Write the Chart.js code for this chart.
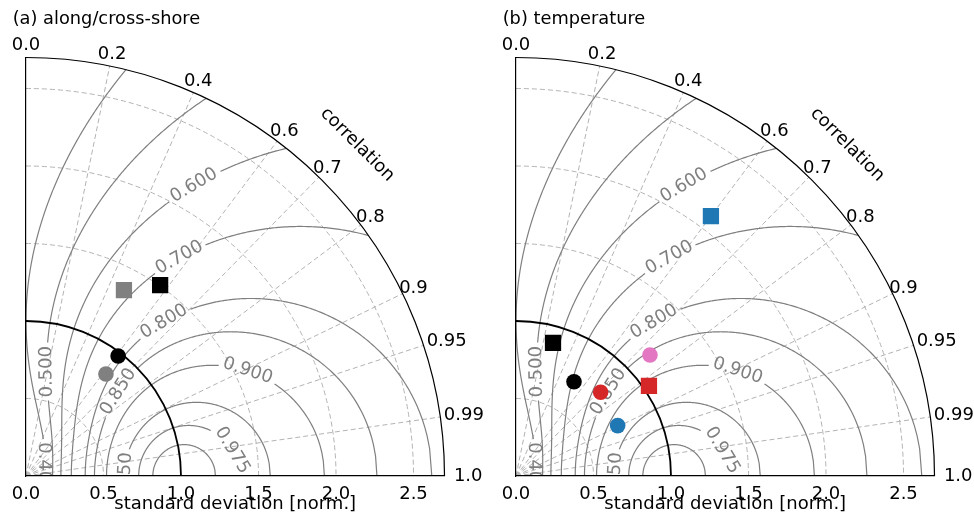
<!DOCTYPE html>
<html lang="en">
<head>
  <meta charset="UTF-8" />
  <title>Taylor diagrams</title>
  <script src="https://cdn.jsdelivr.net/npm/chart.js"></script>
  <style>
    body { margin: 0; background: #fff; font-family: 'DejaVu Sans', sans-serif; }
    .wrap { position: relative; width: 974px; height: 515px; overflow: hidden; }
    .title { position: absolute; top: 8px; font-size: 17.8px; line-height: 20px; color: #000; white-space: nowrap; }
    canvas { position: absolute; top: 0; }
  </style>
</head>
<body>
  <div class="wrap">
    <canvas id="panelA" width="487" height="515" style="left:0"></canvas>
    <canvas id="panelB" width="484" height="515" style="left:490px"></canvas>
    <div class="title" style="left:12.7px">(a) along/cross-shore</div>
    <div class="title" style="left:502.7px">(b) temperature</div>
  </div>

  <script>
    // normalised standard deviation and correlation of each marker
    const stdA  = [1.505, 1.356, 0.976, 0.836];
    const corrA = [0.575, 0.466, 0.609, 0.617];
    const stdB  = [2.096, 0.891, 1.165, 0.714, 0.768, 1.036, 0.732];
    const corrB = [0.600, 0.268, 0.742, 0.524, 0.711, 0.828, 0.896];

    // marker styles
    const shapeA = ['rect', 'rect', 'circle', 'circle'];
    const colorA = ['#000000', '#808080', '#000000', '#808080'];
    const shapeB = ['rect', 'rect', 'circle', 'circle', 'circle', 'rect', 'circle'];
    const colorB = ['#1f77b4', '#000000', '#e377c2', '#000000', '#d62728', '#d62728', '#1f77b4'];

    // axes and grid
    const stdMax = 2.7;
    const stdTicks = [0, 0.5, 1.0, 1.5, 2.0, 2.5];
    const stdGrid = [0.5, 1.5, 2.0, 2.5];
    const corrTicks = [0.0, 0.2, 0.4, 0.6, 0.7, 0.8, 0.9, 0.95, 0.99, 1.0];
    const skillLevels = [0.4, 0.5, 0.6, 0.7, 0.8, 0.85, 0.9, 0.95, 0.975, 0.99];

    const FONT = "'DejaVu Sans', sans-serif";
    const FS = 18;
    const GRID = '#b3b3b3';
    const CONTOUR = '#7f7f7f';

    // where the inline contour labels sit (std units)
    const skillLabelAt = [
      { level: 0.4,   x: 0.116, y: 0.052, snap: false },
      { level: 0.5,   x: 0.133, y: 0.673, snap: true, up: true },
      { level: 0.6,   x: 1.079, y: 1.883, snap: true },
      { level: 0.7,   x: 0.994, y: 1.405, snap: true },
      { level: 0.8,   x: 0.897, y: 0.985, snap: true },
      { level: 0.85,  x: 0.596, y: 0.544, snap: true },
      { level: 0.9,   x: 1.429, y: 0.682, snap: true },
      { level: 0.95,  x: 0.639, y: -0.013, snap: false },
      { level: 0.975, x: 1.332, y: 0.168, snap: true }
    ];

    // skill contour: (1+R)^2 / (2(s+1/s)) = S/(2-S)
    function skillCurve(level, X, Y) {
      const q = level / (2 - level);
      const sig = [];
      for (let i = 0; i <= 1400; i++) sig.push(0.02 * Math.pow(stdMax * 1.03 / 0.02, i / 1400));
      const u1 = 2 / q;
      if (u1 >= 2) {
        const d = Math.sqrt(u1 * u1 - 4);
        sig.push((u1 - d) / 2, (u1 + d) / 2);
      }
      sig.sort((a, b) => a - b);
      const pts = [];
      for (const s of sig) {
        let r = Math.sqrt(2 * (s + 1 / s) * q) - 1;
        if (r > 1 + 1e-9) { pts.push(null); continue; }
        r = Math.min(r, 1);
        pts.push({ x: X(s * r), y: Y(s * Math.sqrt(1 - r * r)) });
      }
      return pts;
    }

    function tangentAt(pts, best) {
      const d = (p, q) => Math.hypot(p.x - q.x, p.y - q.y);
      let a = best, b = best;
      while (a > 0 && pts[a - 1] && d(pts[a], pts[best]) < 8) a--;
      while (b < pts.length - 1 && pts[b + 1] && d(pts[b], pts[best]) < 8) b++;
      let ang = Math.atan2(pts[b].y - pts[a].y, pts[b].x - pts[a].x);
      if (ang > Math.PI / 2) ang -= Math.PI;
      if (ang <= -Math.PI / 2) ang += Math.PI;
      return ang;
    }

    const taylorPlugin = {
      id: 'taylor',
      beforeDraw(chart) {
        const { ctx, scales: { x, y } } = chart;
        const X = v => x.getPixelForValue(v);
        const Y = v => y.getPixelForValue(v);
        const ox = X(0), oy = Y(0);
        const rad = s => X(s) - X(0);

        ctx.save();
        ctx.beginPath();
        ctx.moveTo(ox, oy);
        ctx.arc(ox, oy, rad(stdMax), -Math.PI / 2, 0);
        ctx.closePath();
        ctx.clip();

        // dashed std arcs and correlation rays
        ctx.strokeStyle = GRID;
        ctx.lineWidth = 1;
        ctx.setLineDash([5, 3]);
        stdGrid.forEach(s => {
          ctx.beginPath();
          ctx.arc(ox, oy, rad(s), -Math.PI / 2, 0);
          ctx.stroke();
        });
        corrTicks.forEach(r => {
          if (r <= 0 || r >= 1) return;
          ctx.beginPath();
          ctx.moveTo(ox, oy);
          ctx.lineTo(X(stdMax * r), Y(stdMax * Math.sqrt(1 - r * r)));
          ctx.stroke();
        });
        ctx.setLineDash([]);

        // skill score contours with inline labels
        ctx.font = `${FS}px ${FONT}`;
        ctx.textAlign = 'center';
        ctx.textBaseline = 'middle';
        skillLevels.forEach(level => {
          const pts = skillCurve(level, X, Y);
          const gaps = [];
          skillLabelAt.filter(l => l.level === level).forEach(l => {
            const px = X(l.x), py = Y(l.y);
            let best = -1, bd = Infinity;
            pts.forEach((p, i) => {
              if (!p) return;
              const dd = (p.x - px) ** 2 + (p.y - py) ** 2;
              if (dd < bd) { bd = dd; best = i; }
            });
            const cx = l.snap ? pts[best].x : px;
            const cy = l.snap ? pts[best].y : py;
            const text = level.toFixed(3);
            const w = ctx.measureText(text).width;
            gaps.push({ x: cx, y: cy, r: w / 2 + 3 });
            let ang = tangentAt(pts, best);
            if (l.up && ang > 0) ang -= Math.PI;
            ctx.save();
            ctx.translate(cx, cy);
            ctx.rotate(ang);
            ctx.fillStyle = CONTOUR;
            ctx.fillText(text, 0, 0);
            ctx.restore();
          });
          ctx.strokeStyle = CONTOUR;
          ctx.lineWidth = 1.2;
          ctx.beginPath();
          let pen = false;
          for (const p of pts) {
            if (!p || gaps.some(g => Math.hypot(p.x - g.x, p.y - g.y) < g.r)) { pen = false; continue; }
            if (!pen) { ctx.moveTo(p.x, p.y); pen = true; } else ctx.lineTo(p.x, p.y);
          }
          ctx.stroke();
        });
        ctx.restore();

        // reference arc and outer arc
        ctx.save();
        ctx.strokeStyle = '#000';
        ctx.lineWidth = 1.8;
        ctx.beginPath();
        ctx.arc(ox, oy, rad(1), -Math.PI / 2, 0);
        ctx.stroke();
        ctx.lineWidth = 1.2;
        ctx.beginPath();
        ctx.arc(ox, oy, rad(stdMax), -Math.PI / 2, 0);
        ctx.stroke();

        // correlation tick labels
        ctx.fillStyle = '#000';
        ctx.font = `${FS}px ${FONT}`;
        ctx.textAlign = 'center';
        ctx.textBaseline = 'middle';
        const R = rad(stdMax);
        corrTicks.forEach(r => {
          const th = Math.acos(r);
          const label = Number.isInteger(r) ? r.toFixed(1) : String(r);
          const cx = ox + (R + 12) * Math.cos(th) + (th < 20 * Math.PI / 180 ? 11.7 : 0);
          const cy = oy - (R + 12) * Math.sin(th);
          ctx.fillText(label, cx, cy);
        });
        ctx.translate(ox + (R + 50) * Math.SQRT1_2, oy - (R + 50) * Math.SQRT1_2);
        ctx.rotate(Math.PI / 4);
        ctx.fillText('correlation', 0, 0);
        ctx.restore();
      }
    };

    function makePanel(id, std, corr, shapes, colors) {
      const canvas = document.getElementById(id);
      const datasets = std.map((s, i) => ({
        data: [{ x: s * corr[i], y: s * Math.sqrt(1 - corr[i] * corr[i]) }],
        pointStyle: shapes[i],
        pointRadius: shapes[i] === 'rect' ? 11.5 : 7.8,
        backgroundColor: colors[i],
        borderColor: colors[i],
        borderWidth: 0
      }));
      return new Chart(canvas.getContext('2d'), {
        type: 'scatter',
        data: { datasets },
        options: {
          responsive: false,
          animation: false,
          events: [],
          layout: { padding: { left: 26, right: canvas.width - 26 - 418.5, top: 57.5, bottom: 0 } },
          plugins: { legend: { display: false }, tooltip: { enabled: false } },
          scales: {
            x: {
              type: 'linear', min: 0, max: stdMax,
              afterBuildTicks: s => { s.ticks = stdTicks.map(v => ({ value: v })); },
              afterFit: s => { s.height = 39; },
              grid: { display: false, drawTicks: false },
              border: { display: true, color: '#000', width: 1.2 },
              ticks: {
                color: '#000', padding: 7.5, maxRotation: 0, autoSkip: false,
                font: { family: FONT, size: FS },
                callback: v => v.toFixed(1)
              },
              title: {
                display: true, text: 'standard deviation [norm.]', color: '#000',
                font: { family: FONT, size: FS }, padding: { top: 0, bottom: 0 }
              }
            },
            y: {
              type: 'linear', min: 0, max: stdMax,
              afterFit: s => { s.width = 0; },
              grid: { display: false, drawTicks: false },
              border: { display: true, color: '#000', width: 1.2 },
              ticks: { display: false }
            }
          }
        },
        plugins: [taylorPlugin]
      });
    }

    makePanel('panelA', stdA, corrA, shapeA, colorA);
    makePanel('panelB', stdB, corrB, shapeB, colorB);
  </script>
</body>
</html>
